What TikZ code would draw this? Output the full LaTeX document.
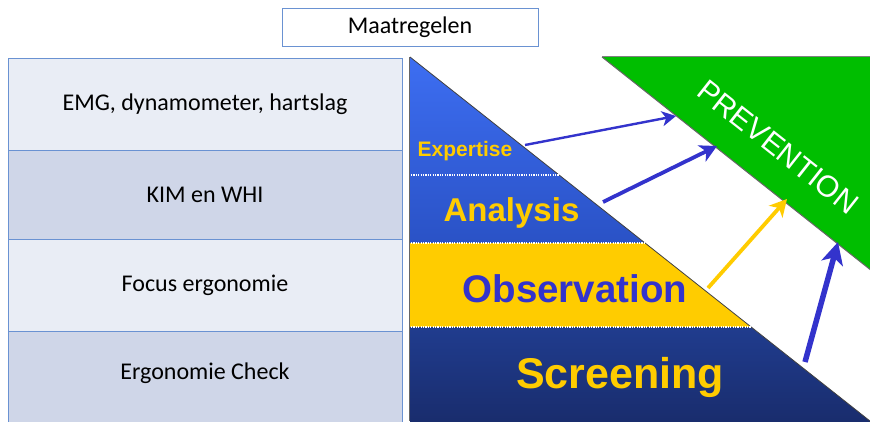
\documentclass[tikz,border=0pt]{standalone}
\usepackage{fontspec}
\setmainfont{Carlito}
\newfontfamily\arialfont{Liberation Sans}
\usetikzlibrary{arrows.meta}
\definecolor{rowlight}{HTML}{E9EDF5}
\definecolor{rowdark}{HTML}{CFD6E8}
\definecolor{rowborder}{HTML}{6A92D2}
\definecolor{blueA}{HTML}{3D6EF2}
\definecolor{blueB}{HTML}{2A52C6}
\definecolor{navyA}{HTML}{203C8E}
\definecolor{navyB}{HTML}{192C6C}
\definecolor{sobyellow}{HTML}{FFCC00}
\definecolor{sobgreen}{HTML}{00BE00}
\definecolor{arrowblue}{HTML}{3333CC}
\tikzset{
  x=1pt, y=-1pt,
  rowbox/.style={draw=rowborder, line width=0.8pt, minimum width=394pt, inner sep=0pt,
    font=\fontsize{24}{26}\selectfont, text=black},
  lightrow/.style={rowbox, fill=rowlight},
  darkrow/.style={rowbox, fill=rowdark},
  levellabel/.style={font=\arialfont\bfseries, inner sep=0pt},
  bandsep/.style={draw=white, line width=1.6pt, dash pattern=on 1.2pt off 1.2pt},
  thinarrow/.style={draw=arrowblue, line width=2.4pt, -{Stealth[length=14pt,width=15pt,inset=4pt]}},
  midarrow/.style={line width=3.8pt, -{Stealth[length=17pt,width=18pt,inset=5pt]}},
  thickarrow/.style={draw=arrowblue, line width=5.5pt, -{Stealth[length=22pt,width=22pt,inset=6pt]}}
}
\begin{document}
\begin{tikzpicture}
\useasboundingbox (0,0) rectangle (870,421);
\fill[white] (0,0) rectangle (870,421);
\begin{scope}
\clip (0,0) rectangle (870,421);
% title box
\node[draw=rowborder, line width=0.8pt, minimum width=256pt, minimum height=38pt, inner sep=0pt,
  font=\fontsize{24}{26}\selectfont] (title) at (410,27) {Maatregelen};
% table rows
\node[lightrow, minimum height=92pt] (r1) at (205,104) {EMG, dynamometer, hartslag};
\node[darkrow, minimum height=89pt] (r2) at (205,194.5) {KIM en WHI};
\node[lightrow, minimum height=92pt] (r3) at (205,285) {Focus ergonomie};
\node[darkrow, minimum height=94pt] (r4) at (205,378) {};
\node[font=\fontsize{24}{26}\selectfont] (r4t) at (205,373) {Ergonomie Check};
% picture: bands
\shade[top color=blueA, bottom color=blueB] (410,57) -- (645,243) -- (410,243) -- cycle;
\fill[sobyellow] (410,243) -- (645,243) -- (751,327) -- (410,327) -- cycle;
\shade[top color=navyA, bottom color=navyB] (410,327) -- (751,327) -- (875,425) -- (410,425) -- cycle;
\fill[sobgreen] (602,57) -- (872,57) -- (872,271) -- cycle;
\draw[black!75, line width=0.8pt] (410,57) -- (875,425);
\draw[black!60, line width=1pt] (602,57) -- (872,271);
\draw[gray, line width=1.2pt] (602,56.5) -- (872,56.5);
\draw[gray!80!black, line width=1.5pt] (409.5,57) -- (409.5,421);
% dotted band separators
\coordinate (s1a) at (411,175); \coordinate (s1b) at (559,175);
\coordinate (s2a) at (411,243); \coordinate (s2b) at (645,243);
\coordinate (s3a) at (411,327); \coordinate (s3b) at (751,327);
\draw[bandsep] (s1a) -- (s1b);
\draw[bandsep] (s2a) -- (s2b);
\draw[bandsep] (s3a) -- (s3b);
% level labels
\node[levellabel, text=sobyellow, font=\arialfont\bfseries\fontsize{21}{22}\selectfont] (lexp) at (465,151) {Expertise};
\node[levellabel, text=sobyellow, font=\arialfont\bfseries\fontsize{33}{34}\selectfont] (lana) at (511.5,213) {Analysis};
\node[levellabel, text=arrowblue, font=\arialfont\bfseries\fontsize{38.5}{40}\selectfont] (lobs) at (575,289) {Observation};
\node[levellabel, text=sobyellow, font=\arialfont\bfseries\fontsize{43}{44}\selectfont] (lscr) at (620,377) {Screening};
\node[font=\arialfont\fontsize{30}{32}\selectfont, text=white, inner sep=0pt, rotate=-38.3] (prev) at (778,147) {PREVENTION};
% arrows
\coordinate (a1s) at (525,145); \coordinate (a1e) at (676,116);
\coordinate (a2s) at (603,202); \coordinate (a2e) at (717,146);
\coordinate (a3s) at (708,288); \coordinate (a3e) at (787,199);
\coordinate (a4s) at (805,362); \coordinate (a4e) at (838,242);
\draw[thinarrow] (a1s) -- (a1e);
\draw[midarrow, draw=arrowblue] (a2s) -- (a2e);
\draw[midarrow, draw=sobyellow] (a3s) -- (a3e);
\draw[thickarrow] (a4s) -- (a4e);
\end{scope}
\end{tikzpicture}
\end{document}
